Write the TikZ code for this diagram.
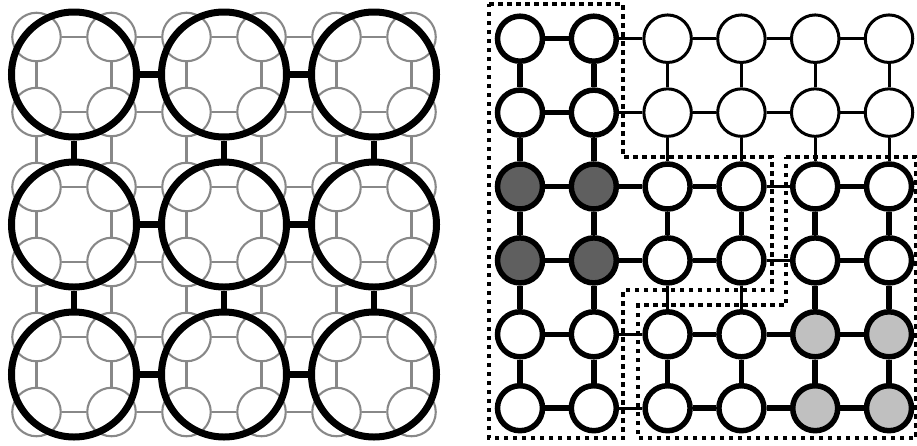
\documentclass[tikz,border=0pt]{standalone}
\definecolor{smallgray}{HTML}{888888}
\definecolor{darkfill}{HTML}{5F5F5F}
\definecolor{lightfill}{HTML}{C0C0C0}
\newcommand\getreg[3]{%
  \ifnum#1<3 \def#3{1}\else
    \ifnum#2<3 \def#3{2}\else
      \ifnum#1<5 \ifnum#2<5 \def#3{1}\else \def#3{3}\fi
      \else \def#3{3}\fi
    \fi
  \fi}
\newcommand\edgew[2]{%
  \ifnum#1=#2 \ifnum#1=2 \def\ew{3pt}\else\def\ew{5.5pt}\fi
  \else\def\ew{3pt}\fi}
\begin{document}
\begin{tikzpicture}[x=1pt,y=-1pt,
  small/.style={circle,draw=smallgray,line width=2.1pt,minimum size=48.5pt,inner sep=0pt},
  big/.style={circle,draw=black,line width=7pt,minimum size=125pt,inner sep=0pt},
  grayedge/.style={draw=smallgray,line width=2.1pt},
  bigedge/.style={draw=black,line width=6.5pt},
  rnode/.style={circle,draw=black,inner sep=0pt},
  regionbox/.style={draw=black,line width=4.5pt,dash pattern=on 4.5pt off 4.5pt}]
\useasboundingbox (0,0) rectangle (917,445);
% ---------- left panel ----------
\foreach \ix in {1,...,6}{\foreach \iy in {1,...,6}{
  \node[small] (s-\ix-\iy) at ({36.5+75*(\ix-1)},{37+75*(\iy-1)}) {};
}}
\foreach \ix in {1,...,5}{\foreach \iy in {1,...,6}{
  \pgfmathtruncatemacro\nx{\ix+1}
  \draw[grayedge] (s-\ix-\iy) -- (s-\nx-\iy);
  \draw[grayedge] (s-\iy-\ix) -- (s-\iy-\nx);
}}
\foreach \ix in {1,2,3}{\foreach \iy in {1,2,3}{
  \node[big] (b-\ix-\iy) at ({74+150*(\ix-1)},{74.5+150*(\iy-1)}) {};
}}
\foreach \ix in {1,2}{\foreach \iy in {1,2,3}{
  \pgfmathtruncatemacro\nx{\ix+1}
  \draw[bigedge] (b-\ix-\iy) -- (b-\nx-\iy);
  \draw[bigedge] (b-\iy-\ix) -- (b-\iy-\nx);
}}
% ---------- right panel ----------
\foreach \cx in {1,...,6}{\foreach \ry in {1,...,6}{
  \getreg{\cx}{\ry}\rg
  \def\fc{white}%
  \ifnum\cx<3 \ifnum\ry>2 \ifnum\ry<5 \def\fc{darkfill}\fi\fi\fi
  \ifnum\cx>4 \ifnum\ry>4 \def\fc{lightfill}\fi\fi
  \ifnum\rg=2 \def\lw{3pt}\def\ms{47.5pt}\else\def\lw{5.5pt}\def\ms{45pt}\fi
  \node[rnode,line width=\lw,minimum size=\ms,fill=\fc] (r-\cx-\ry)
    at ({520+73.8*(\cx-1)},{38.7+73.9*(\ry-1)}) {};
}}
\foreach \cx in {1,...,6}{\foreach \ry in {1,...,6}{
  \pgfmathtruncatemacro\cn{\cx+1}
  \pgfmathtruncatemacro\rn{\ry+1}
  \ifnum\cx<6
    \getreg{\cx}{\ry}\ra \getreg{\cn}{\ry}\rb
    \edgew{\ra}{\rb}
    \draw[line width=\ew] (r-\cx-\ry) -- (r-\cn-\ry);
  \fi
  \ifnum\ry<6
    \getreg{\cx}{\ry}\ra \getreg{\cx}{\rn}\rb
    \edgew{\ra}{\rb}
    \draw[line width=\ew] (r-\cx-\ry) -- (r-\cx-\rn);
  \fi
}}
\draw[regionbox] (489,4) -- (623,4) -- (623,157) -- (772,157) -- (772,290)
  -- (623,290) -- (623,438) -- (489,438) -- cycle;
\draw[regionbox] (786,157) -- (916,157) -- (916,438) -- (638,438)
  -- (638,305) -- (786,305) -- cycle;
\end{tikzpicture}
\end{document}
